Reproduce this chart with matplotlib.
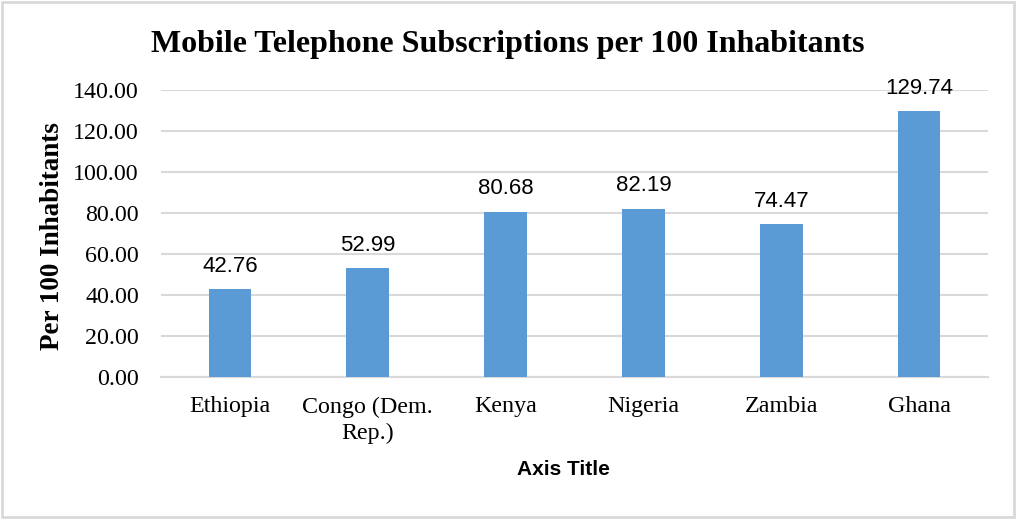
import matplotlib.pyplot as plt
from matplotlib.patches import Rectangle

# mobile subscriptions per 100 inhabitants
countries = ["Ethiopia", "Congo (Dem.\nRep.)", "Kenya", "Nigeria", "Zambia", "Ghana"]
subscriptions = [42.76, 52.99, 80.68, 82.19, 74.47, 129.74]
yticks = [0, 20, 40, 60, 80, 100, 120, 140]

BAR = "#5b9bd5"
GRID = "#d9d9d9"
SERIF = "Liberation Serif"
SANS = "Liberation Sans"

fig = plt.figure(figsize=(10.16, 5.19), dpi=100)
ax = fig.add_axes([0.1585, 0.2736, 0.8139, 0.553])

x = range(len(countries))
bars = ax.bar(x, subscriptions, width=0.31, color=BAR, zorder=3)

ax.set_xlim(-0.5, len(countries) - 0.5)
ax.set_ylim(0, 140)
ax.set_yticks(yticks)
ax.set_yticklabels([f"{v:.2f}" for v in yticks], fontname=SERIF, fontsize=17.3)
ax.set_xticks(list(x))
ax.set_xticklabels(countries, fontname=SERIF, fontsize=17.3, linespacing=1.35)
ax.tick_params(axis="x", length=0, pad=14)
ax.tick_params(axis="y", length=0, pad=16)

ax.grid(axis="y", color=GRID, linewidth=1.5, zorder=0)
for side in ["top", "right", "left"]:
    ax.spines[side].set_visible(False)
ax.spines["bottom"].set_color(GRID)
ax.spines["bottom"].set_linewidth(1.5)

# value labels above bars
for b, v in zip(bars, subscriptions):
    ax.annotate(f"{v:.2f}", (b.get_x() + b.get_width() / 2, v),
                xytext=(0, 9), textcoords="offset points",
                ha="center", va="bottom", fontname=SANS, fontsize=16)

fig.text(0.052, 1 - 236 / 519, "Per 100 Inhabitants", rotation=90,
         ha="center", va="center", fontname=SERIF, fontsize=19.5,
         fontweight="bold")
fig.text(0.555, 0.095, "Axis Title", ha="center", va="center",
         fontname=SANS, fontsize=15, fontweight="bold")
fig.text(0.5, 0.915, "Mobile Telephone Subscriptions per 100 Inhabitants",
         ha="center", va="center", fontname=SERIF, fontsize=23, fontweight="bold")

# chart frame
fig.patches.append(Rectangle((0.002, 0.003), 0.996, 0.994, transform=fig.transFigure,
                             fill=False, edgecolor=GRID, linewidth=2))

fig.savefig("out.png", dpi=100)
